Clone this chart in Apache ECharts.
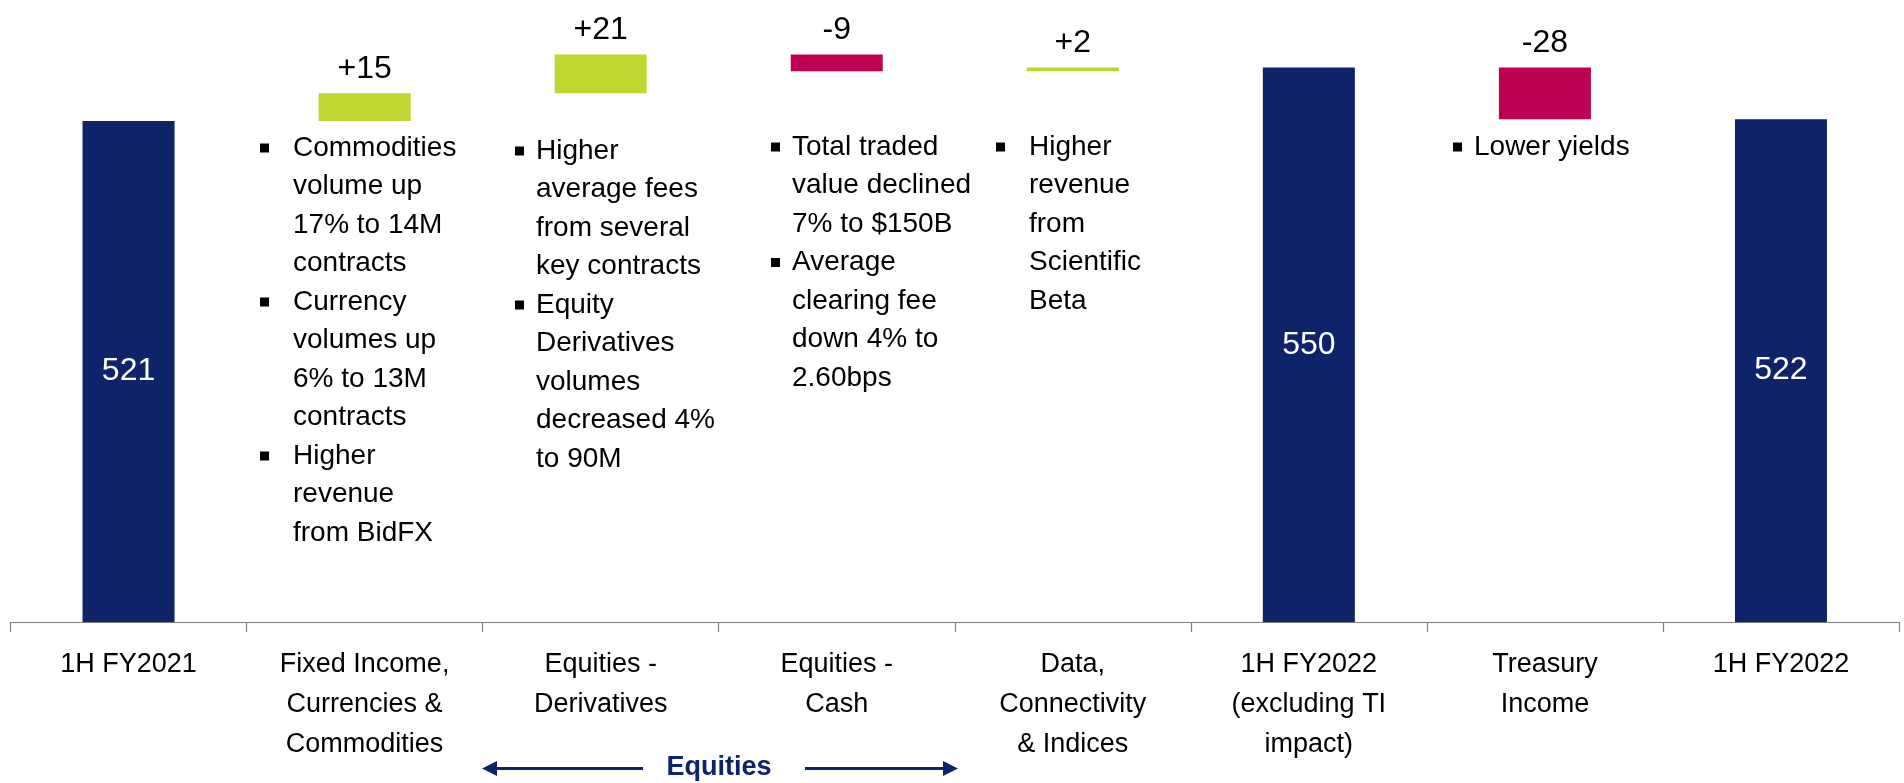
<!DOCTYPE html>
<html>
<head>
<meta charset="utf-8">
<script src="https://cdn.jsdelivr.net/npm/echarts@6/dist/echarts.min.js"></script>
<style>
  html, body { margin: 0; padding: 0; background: #fff; }
  #chart { width: 1904px; height: 783px; }
</style>
</head>
<body>
<div id="chart"></div>
<script>
// categories and values of the waterfall
const categories = [
  '1H FY2021',
  'Fixed Income,\nCurrencies &\nCommodities',
  'Equities -\nDerivatives',
  'Equities -\nCash',
  'Data,\nConnectivity\n& Indices',
  '1H FY2022\n(excluding TI\nimpact)',
  'Treasury\nIncome',
  '1H FY2022'
]
const values = [521, 15, 21, -9, 2, 550, -28, 522]
const isTotal = [true, false, false, false, false, true, false, true]

// bullet notes under the delta bars
const notes = [
  { x: 293, top: 138, bullets: [0, 4, 8], lines: ['Commodities', 'volume up', '17% to 14M', 'contracts', 'Currency', 'volumes up', '6% to 13M', 'contracts', 'Higher', 'revenue', 'from BidFX'] },
  { x: 536, top: 141, bullets: [0, 4], lines: ['Higher', 'average fees', 'from several', 'key contracts', 'Equity', 'Derivatives', 'volumes', 'decreased 4%', 'to 90M'] },
  { x: 792, top: 137, bullets: [0, 3], lines: ['Total traded', 'value declined', '7% to $150B', 'Average', 'clearing fee', 'down 4% to', '2.60bps'] },
  { x: 1029, top: 137, bullets: [0], lines: ['Higher', 'revenue', 'from', 'Scientific', 'Beta'] },
  { x: 1474, top: 137, bullets: [0], lines: ['Lower yields'] }
]
const bulletX = [260, 515, 771, 996, 1453]

const Y_MIN = 250
const NAVY = '#0e2369'
const LIME = '#c0d731'
const RED = '#be0050'
const FONT = "'Liberation Sans', Arial, sans-serif"

// running totals -> invisible base + visible part
let base = []
let visible = []
let running = 0
values.forEach((v, i) => {
  if (isTotal[i]) {
    running = v
    base.push(Y_MIN)
    visible.push({
      value: v - Y_MIN,
      itemStyle: { color: NAVY },
      label: { show: true, position: 'inside', color: '#fff', fontSize: 32, formatter: String(v) }
    })
  } else {
    let start = running
    running = running + v
    base.push(Math.min(start, running))
    visible.push({
      value: Math.abs(v),
      itemStyle: { color: v > 0 ? LIME : RED },
      label: { show: true, position: 'top', distance: 8, color: '#000', fontSize: 32, formatter: (v > 0 ? '+' : '') + v }
    })
  }
})

// graphic elements for notes
let graphics = []
const LH = 38.5
notes.forEach((n, k) => {
  graphics.push({
    type: 'text',
    x: n.x,
    y: n.top + 10 - LH / 2,
    style: {
      text: n.lines.join('\n'),
      font: '28px ' + FONT,
      lineHeight: LH,
      fill: '#000',
      verticalAlign: 'top'
    }
  })
  n.bullets.forEach(b => {
    graphics.push({
      type: 'rect',
      shape: { x: bulletX[k], y: n.top + 10 + b * LH - 4.5, width: 9, height: 9 },
      style: { fill: '#000' }
    })
  })
})

// Equities arrows
graphics.push(
  { type: 'line', shape: { x1: 494, y1: 768.5, x2: 643, y2: 768.5 }, style: { stroke: NAVY, lineWidth: 3 } },
  { type: 'polygon', shape: { points: [[482, 768.5], [497, 761], [497, 776]] }, style: { fill: NAVY } },
  { type: 'line', shape: { x1: 805, y1: 768.5, x2: 946, y2: 768.5 }, style: { stroke: NAVY, lineWidth: 3 } },
  { type: 'polygon', shape: { points: [[958, 768.5], [943, 761], [943, 776]] }, style: { fill: NAVY } },
  {
    type: 'text', x: 719, y: 768,
    style: { text: 'Equities', font: 'bold 27px ' + FONT, fill: NAVY, align: 'center', verticalAlign: 'middle' }
  }
)

let myChart = echarts.init(document.getElementById('chart'))
let option = {
  animation: false,
  grid: { left: 10.5, right: 5, top: 12, bottom: 161, containLabel: false },
  xAxis: {
    type: 'category',
    data: categories,
    axisLine: { lineStyle: { color: '#7f7f7f', width: 1.2 } },
    axisTick: { show: true, length: 10, lineStyle: { color: '#7f7f7f', width: 1.2 } },
    axisLabel: {
      interval: 0,
      margin: 23,
      color: '#000',
      fontSize: 27,
      lineHeight: 40,
      fontFamily: FONT
    }
  },
  yAxis: {
    type: 'value',
    min: Y_MIN,
    max: 580,
    show: false,
    splitLine: { show: false }
  },
  series: [
    {
      type: 'bar',
      stack: 'wf',
      data: base,
      barWidth: 92,
      itemStyle: { color: 'transparent' },
      silent: true
    },
    {
      type: 'bar',
      stack: 'wf',
      data: visible,
      barWidth: 92,
      label: { fontFamily: FONT }
    }
  ],
  graphic: graphics
}
myChart.setOption(option)
</script>
</body>
</html>
